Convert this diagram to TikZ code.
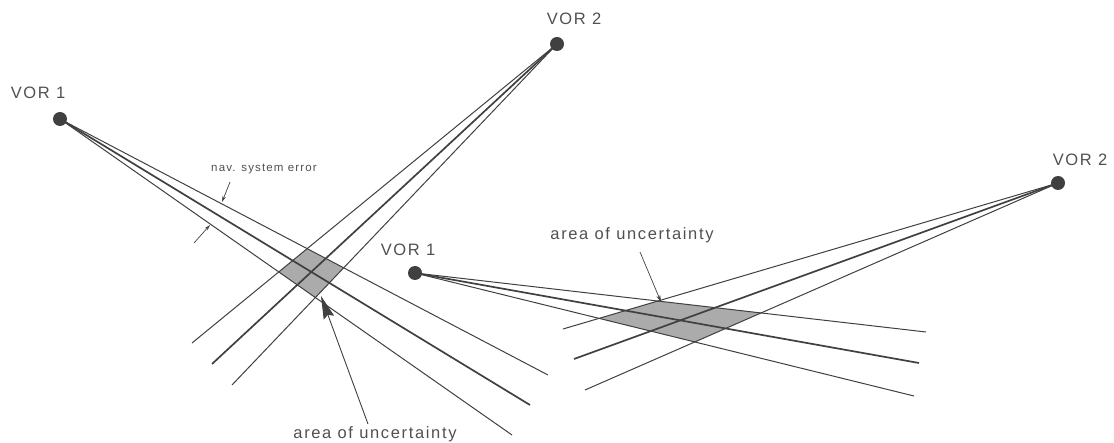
\documentclass[tikz,border=0pt]{standalone}
\usepackage{fontspec}
\setmainfont{Liberation Sans}[LetterSpace=10]
\usetikzlibrary{calc,arrows.meta}
\definecolor{ink}{HTML}{404040}
\definecolor{txt}{HTML}{505050}
\definecolor{shadegray}{HTML}{ABABAB}
\begin{document}
\begin{tikzpicture}[x=1pt,y=-1pt,
  vordot/.style={circle,fill=ink,inner sep=0pt,minimum size=14pt},
  beam/.style={draw=ink,line width=1.0pt},
  beamc/.style={draw=ink,line width=1.7pt},
  lbl/.style={text=txt,inner sep=0pt,font=\fontsize{16.5}{19}\selectfont},
  smalllbl/.style={text=txt,inner sep=0pt,font=\fontsize{11.5}{14}\selectfont},
  smallarrow/.style={draw=ink,line width=0.7pt,-{Stealth[length=6pt,width=3.5pt]}},
  bigarrow/.style={draw=ink,line width=0.9pt,-{Stealth[length=23pt,width=11pt,inset=3pt]}},
  thinarrow/.style={draw=ink,line width=0.7pt,-{Stealth[length=7pt,width=4pt]}}]
\useasboundingbox (0,0) rectangle (1114,443);

% ---------- left figure ----------
\coordinate (A) at (60,119);
\coordinate (Au) at (548,375);
\coordinate (Ac) at (530,405);
\coordinate (Al) at (512,435);
\coordinate (B) at (557,44);
\coordinate (Bl) at (192,343);
\coordinate (Bc) at (212,364);
\coordinate (Br) at (232,385);

\fill[shadegray] (intersection of A--Au and B--Bl) -- (intersection of A--Au and B--Br)
  -- (intersection of A--Al and B--Br) -- (intersection of A--Al and B--Bl) -- cycle;

\draw[beam] (A) -- (Au);
\draw[beamc] (A) -- (Ac);
\draw[beam] (A) -- (Al);
\draw[beam] (B) -- (Bl);
\draw[beamc] (B) -- (Bc);
\draw[beam] (B) -- (Br);

\node[vordot] (vorA) at (A) {};
\node[vordot] (vorB) at (B) {};
\node[lbl] (labA) at (38,93) {VOR 1};
\node[lbl] (labB) at (574,19) {VOR 2};

\node[smalllbl] (nse) at (264,169) {nav. system error};
\coordinate (e1s) at (230,182);
\coordinate (e1t) at (222,202);
\coordinate (e2s) at (194,243);
\coordinate (e2t) at (210,225);
\draw[smallarrow] (e1s) -- (e1t);
\draw[smallarrow] (e2s) -- (e2t);

\node[lbl] (ualeft) at (375,434) {area of uncertainty};
\coordinate (ualfoot) at (368,424);
\coordinate (ualtip) at (321,296);
\draw[bigarrow] (ualfoot) -- (ualtip);

% ---------- right figure ----------
\coordinate (C) at (415,273);
\coordinate (Cu) at (926,332);
\coordinate (Cc) at (919,363);
\coordinate (Cl) at (914,396);
\coordinate (D) at (1058,183);
\coordinate (Du) at (563,329);
\coordinate (Dc) at (574,359);
\coordinate (Dl) at (585,390);

\fill[shadegray] (intersection of C--Cu and D--Du) -- (intersection of C--Cu and D--Dl)
  -- (intersection of C--Cl and D--Dl) -- (intersection of C--Cl and D--Du) -- cycle;

\draw[beam] (C) -- (Cu);
\draw[beamc] (C) -- (Cc);
\draw[beam] (C) -- (Cl);
\draw[beam] (D) -- (Du);
\draw[beamc] (D) -- (Dc);
\draw[beam] (D) -- (Dl);

\node[vordot] (vorC) at (C) {};
\node[vordot] (vorD) at (D) {};
\node[lbl] (labC) at (408,250) {VOR 1};
\node[lbl] (labD) at (1080,160) {VOR 2};

\node[lbl] (uaright) at (632,235) {area of uncertainty};
\coordinate (uarfoot) at (640,252);
\coordinate (uartip) at (661,302);
\draw[thinarrow] (uarfoot) -- (uartip);
\end{tikzpicture}
\end{document}
